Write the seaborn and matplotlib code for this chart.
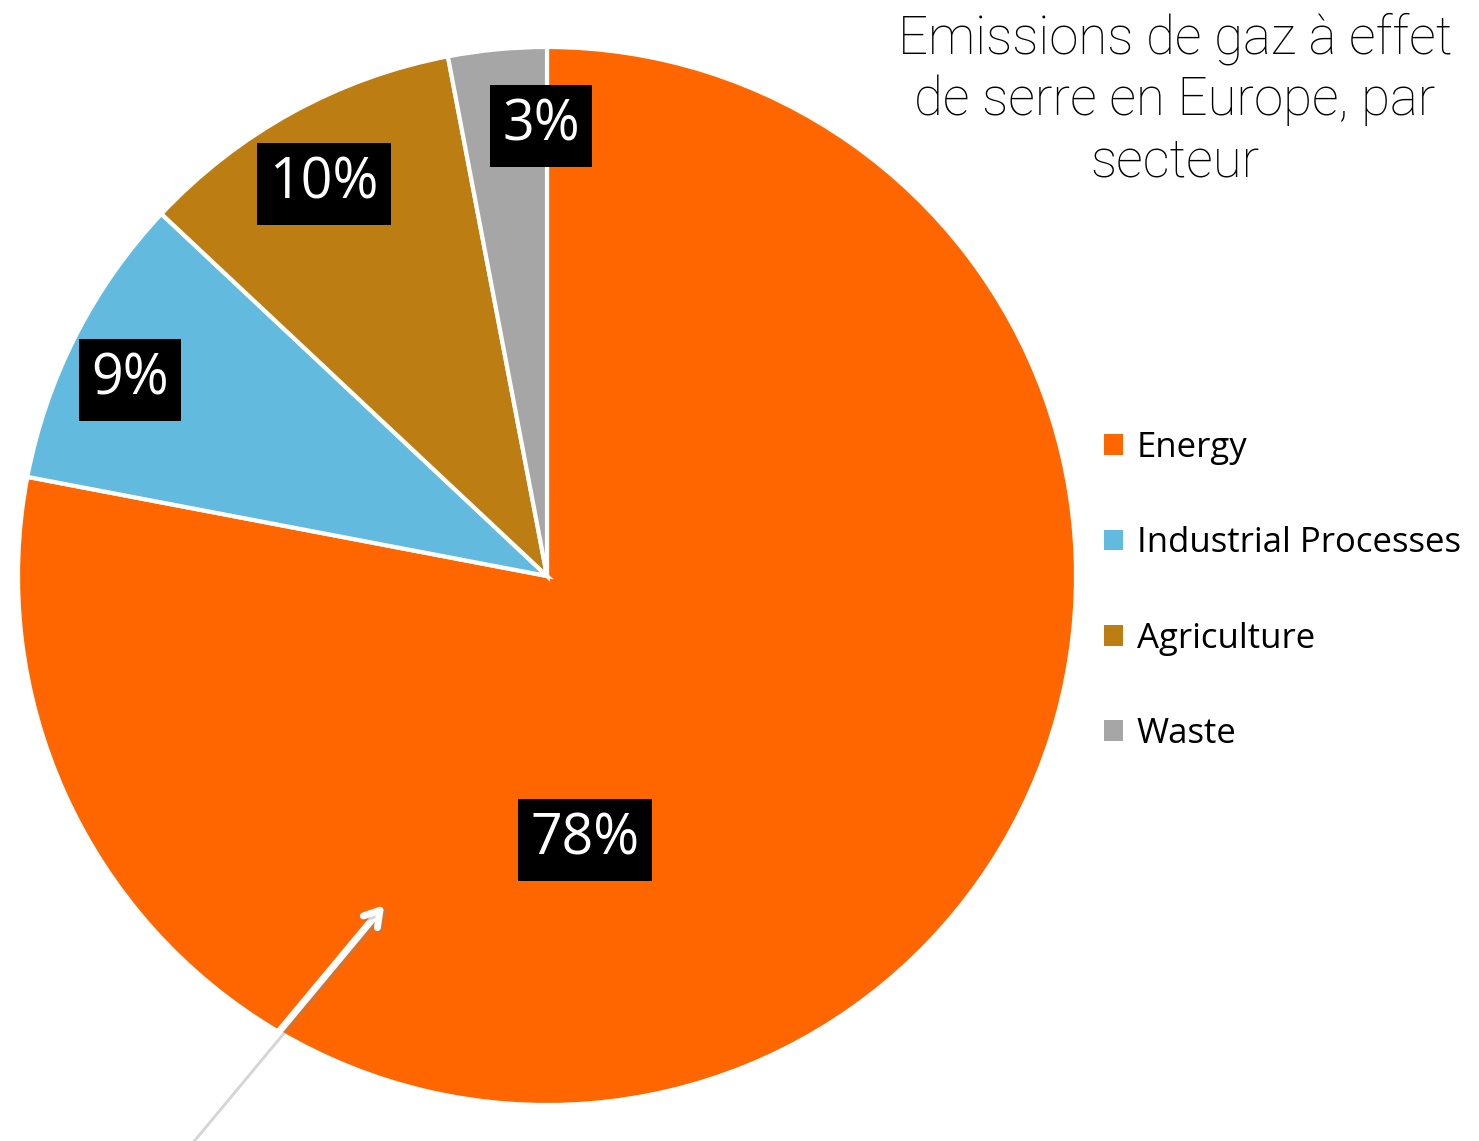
import matplotlib
matplotlib.use("Agg")
import matplotlib.pyplot as plt
import matplotlib.patheffects as pe
import seaborn as sns

sectors = ["Energy", "Industrial Processes", "Agriculture", "Waste"]
shares = [78, 9, 10, 3]
colors = ["#FF6600", "#62BADF", "#BC7E12", "#A6A6A6"]
title = "Emissions de gaz à effet\nde serre en Europe, par\nsecteur"

sns.set_theme(style="white")
plt.rcParams['font.family'] = ['Open Sans', 'DejaVu Sans']

W, H = 1479, 1141
fig = plt.figure(figsize=(W / 100, H / 100), dpi=100)
ax = fig.add_axes([0, 0, 1, 1])

cx, cy, R = 547, H - 576, 529
wedges, _ = ax.pie(shares, colors=colors, startangle=90, counterclock=False,
                   center=(cx, cy), radius=R, frame=True,
                   wedgeprops=dict(edgecolor="white", linewidth=3))
ax.set_xlim(0, W)
ax.set_ylim(0, H)
ax.set_aspect('equal')
ax.axis('off')

label_pos = [(585, 840), (130, 380), (324, 184), (541, 126)]
for v, (x, y) in zip(shares, label_pos):
    ax.text(x, H - y, f"{v}%", color="white", fontsize=40, ha="center", va="center",
            bbox=dict(boxstyle="square,pad=0.22", fc="black", ec="none"))

ax.annotate("", xy=(386, H - 903), xytext=(188, H - 1141),
            arrowprops=dict(arrowstyle="->,head_length=0.9,head_width=0.55", color="white", lw=5,
                            path_effects=[pe.SimpleLineShadow(offset=(1.5, -1.5), shadow_color="#888888", alpha=0.35),
                                          pe.Normal()]))

fig.text(1175 / W, 1 - 100 / H, title, ha="center", va="center", fontsize=38,
         family=['Roboto', 'DejaVu Sans'], fontweight='light', linespacing=1.25, color="black")

leg = fig.legend(wedges, sectors, loc="center left", bbox_to_anchor=(1090 / W, 1 - 591 / H),
                 frameon=False, fontsize=25, handlelength=0.55, handleheight=0.55,
                 handletextpad=0.4, labelspacing=1.77, borderaxespad=0)
for t in leg.get_texts():
    t.set_color("black")
for h in leg.legend_handles:
    h.set_edgecolor("none")

fig.savefig("out.png", dpi=100, facecolor="white")
